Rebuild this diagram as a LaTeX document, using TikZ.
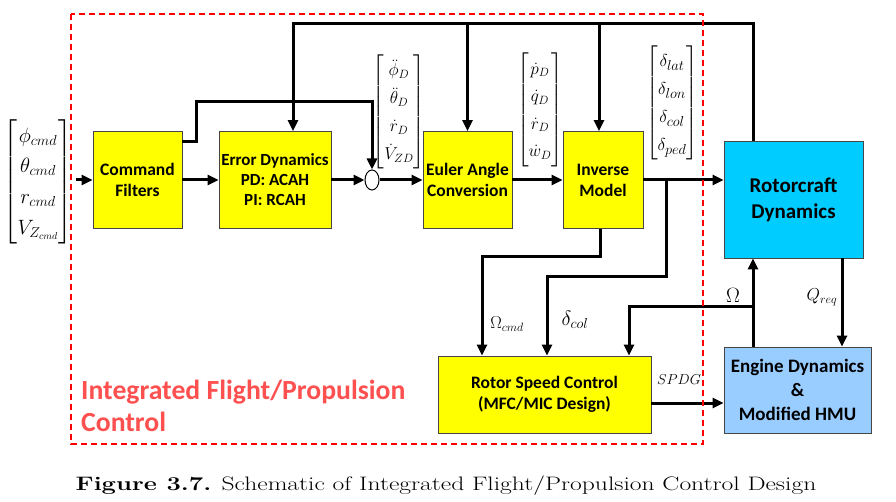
\documentclass[tikz,border=0pt]{standalone}
\usepackage{amsmath}
\usepackage{fontspec}
\setsansfont{Carlito}
\usetikzlibrary{positioning,arrows.meta,shapes.geometric}
\definecolor{ctrlc}{RGB}{255,255,0}
\definecolor{plantc}{RGB}{0,204,255}
\definecolor{enginec}{RGB}{153,204,255}
\definecolor{bordc}{RGB}{70,70,70}
\definecolor{ifpcc}{RGB}{255,80,80}
\tikzset{
  box/.style={draw=bordc, line width=0.8pt, align=center, inner sep=1pt, font=\sffamily\bfseries\fontsize{17.5}{21}\selectfont},
  ctrl/.style={box, fill=ctrlc},
  plant/.style={box, fill=plantc},
  engine/.style={box, fill=enginec},
  bus/.style={line width=3pt},
  flow/.style={bus, -{Triangle[length=11pt,width=10pt]}},
  vec/.style={inner sep=0pt, font=\fontsize{18}{21}\selectfont},
  sig/.style={inner sep=0pt, font=\fontsize{17}{20}\selectfont},
  region/.style={draw=red, line width=1.3pt, dash pattern=on 6pt off 4pt}
}

\begin{document}
\begin{tikzpicture}[x=1pt, y=-1pt]
  \useasboundingbox (0,0) rectangle (896,502);

  % blocks
  \node[ctrl, minimum width=89pt, minimum height=97pt] (filt) at (137.5,180) {Command\\Filters};
  \node[ctrl, minimum width=112pt, minimum height=97pt, font=\sffamily\bfseries\fontsize{17}{20}\selectfont] (errdyn) at (275,180) {Error Dynamics\\PD: ACAH\\PI: RCAH};
  \node[draw, ellipse, line width=1pt, fill=white, minimum width=14pt, minimum height=20pt, inner sep=0pt] (sum) at (372,180) {};
  \node[ctrl, minimum width=89pt, minimum height=97pt] (euler) at (467.5,180) {Euler Angle\\Conversion};
  \node[ctrl, minimum width=80pt, minimum height=97pt] (inv) at (603,180) {Inverse\\Model};
  \node[plant, minimum width=139pt, minimum height=117pt, font=\sffamily\bfseries\fontsize{21}{26}\selectfont] (rotor) at (793.5,199.5) {Rotorcraft\\Dynamics};
  \node[ctrl, minimum width=213pt, minimum height=77pt] (rsc) at (544.5,394.5) {Rotor Speed Control\\(MFC/MIC Design)};
  \node[engine, minimum width=147pt, minimum height=86pt, font=\sffamily\bfseries\fontsize{19}{24}\selectfont] (engine) at (797.5,390) {Engine Dynamics\\\&\\Modified HMU};

  % signal vectors
  \node[vec, font=\fontsize{20}{24}\selectfont] (cmdvec) at (38,182) {$\def\arraystretch{1.28}\begin{bmatrix}\phi_{cmd}\\ \theta_{cmd}\\ r_{cmd}\\ V_{Z_{cmd}}\end{bmatrix}$};
  \node[vec] (accvec) at (399,112) {$\def\arraystretch{1.33}\begin{bmatrix}\ddot{\phi}_D\\ \ddot{\theta}_D\\ \dot{r}_D\\ \dot{V}_{ZD}\end{bmatrix}$};
  \node[vec] (ratevec) at (540,110) {$\def\arraystretch{1.31}\begin{bmatrix}\dot{p}_D\\ \dot{q}_D\\ \dot{r}_D\\ \dot{w}_D\end{bmatrix}$};
  \node[vec, font=\fontsize{19}{22}\selectfont] (ctrlvec) at (672,103) {$\def\arraystretch{1.28}\begin{bmatrix}\delta_{lat}\\ \delta_{lon}\\ \delta_{col}\\ \delta_{ped}\end{bmatrix}$};

  % forward path
  \draw[flow] ([xshift=4]cmdvec.east |- filt.west) -- (filt.west);
  \draw[flow] (filt.east) -- (errdyn.west);
  \draw[flow] (errdyn.east) -- (sum.west);
  \draw[flow] (sum.east) -- (euler.west);
  \draw[flow] (euler.east) -- (inv.west);
  \draw[flow] (inv.east) -- (rotor.west |- inv.east);
  \coordinate (ffwd) at (196,102);
  \draw[flow] ([yshift=38]filt.east) -| (ffwd) -| (sum.north);

  % state feedback
  \coordinate (fb) at (753,24);
  \draw[flow] (fb |- rotor.north) -- (fb) -| ([xshift=18]errdyn.north);
  \draw[flow] (euler.north |- fb) -- (euler.north);
  \draw[flow] ([xshift=-4]inv.north |- fb) -- ([xshift=-4]inv.north);

  % rotor speed loop
  \coordinate (tapo) at (600,257);
  \coordinate (tapd) at (666,277);
  \coordinate (omg) at (753,307);
  \coordinate (spdgout) at ([yshift=-8.5]rsc.east);
  \draw[flow] (tapo |- inv.south) -- (tapo) -| ([xshift=-62.5]rsc.north);
  \draw[flow] (tapd |- inv.east) -- (tapd) -| ([xshift=2.5]rsc.north);
  \draw[flow] (omg |- engine.north) -- (omg |- rotor.south);
  \draw[flow] (omg) -| ([xshift=84.5]rsc.north);
  \draw[flow] ([xshift=48.5]rotor.south) -- ([xshift=48.5]rotor.south |- engine.north);
  \draw[flow] (spdgout) -- (engine.west |- spdgout);

  \node[sig] (omcmd) at (507,324) {$\Omega_{cmd}$};
  \node[sig, font=\fontsize{22}{24}\selectfont] (dcol) at (575,320) {$\delta_{col}$};
  \node[sig, font=\fontsize{21}{24}\selectfont] (omlab) at (733,295) {$\Omega$};
  \node[sig] (qreq) at (822,297) {$Q_{req}$};
  \node[sig, font=\fontsize{15}{17}\selectfont] (spdg) at (679,380) {$SPDG$};

  % integrated controller boundary
  \draw[region] (71,14) rectangle (703,444);
  \node[align=left, anchor=north west, inner sep=0pt, text=ifpcc, font=\sffamily\bfseries\fontsize{27.7}{32}\selectfont] (ifpc) at (81,380) {Integrated Flight/Propulsion\\Control};

  \node[font=\fontsize{19.5}{24}\selectfont] (caption) at (446,486) {\scalebox{1.31}[1]{\textbf{Figure 3.7.} Schematic of Integrated Flight/Propulsion Control Design}};
\end{tikzpicture}
\end{document}
